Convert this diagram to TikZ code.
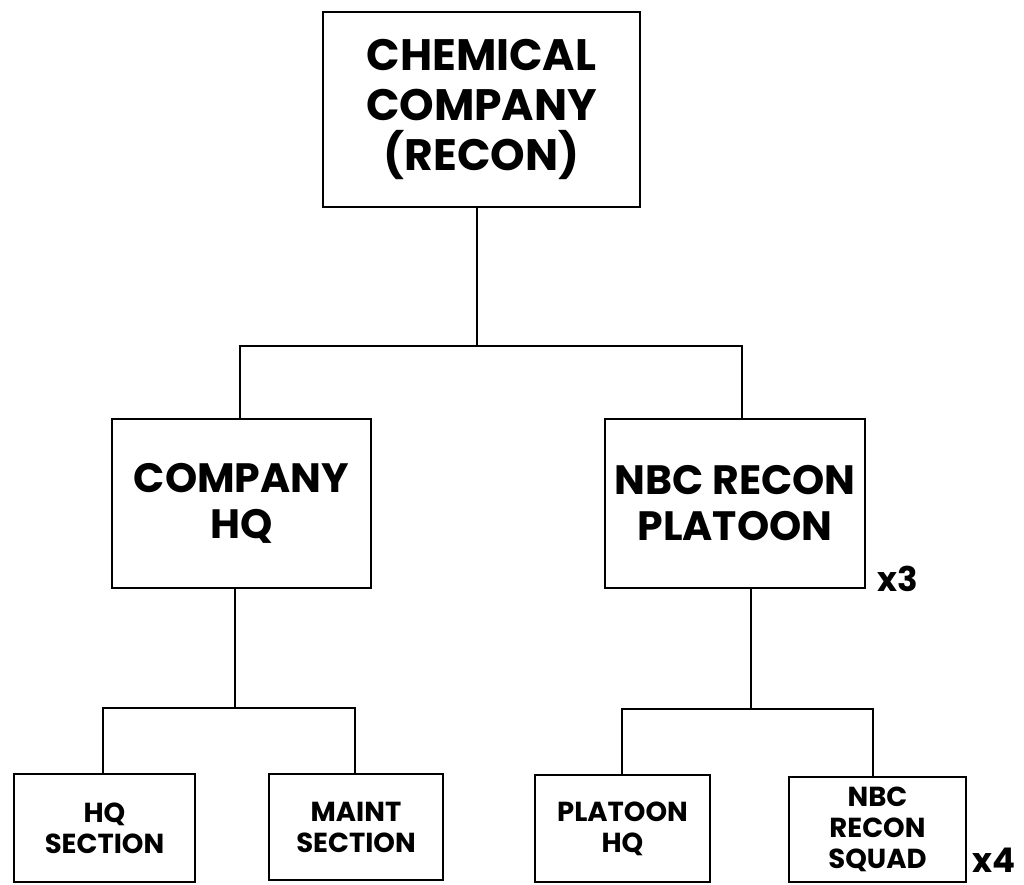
\documentclass[tikz,border=0pt]{standalone}
\usepackage{fontspec}
\setmainfont{Poppins}
\begin{document}
\begin{tikzpicture}[x=1pt,y=-1pt,line width=1.8pt,
  box/.style={draw,rectangle,inner sep=0pt,align=center},
  bigtext/.style={font=\fontsize{44}{50}\selectfont\bfseries},
  midtext/.style={font=\fontsize{41}{46}\selectfont\bfseries},
  smalltext/.style={font=\fontsize{27.5}{31}\selectfont\bfseries},
  mult/.style={font=\fontsize{34}{34}\selectfont\bfseries,inner sep=0pt,anchor=base west}]
\useasboundingbox (0,0) rectangle (1024,884);
\node[box,bigtext,minimum width=317pt,minimum height=195pt] (chem) at (481.5,109.5) {CHEMICAL\\COMPANY\\(RECON)};
\node[box,midtext,minimum width=259pt,minimum height=169pt] (hq) at (241.5,503.5) {COMPANY\\HQ};
\node[box,midtext,minimum width=260pt,minimum height=169pt] (plt) at (735,503.5) {NBC RECON\\PLATOON};
\node[box,smalltext,minimum width=181pt,minimum height=108pt] (hqsec) at (104.5,828) {HQ\\SECTION};
\node[box,smalltext,minimum width=174pt,minimum height=106pt] (maint) at (356,827) {MAINT\\SECTION};
\node[box,smalltext,minimum width=175pt,minimum height=107pt] (plthq) at (622.5,828.5) {PLATOON\\HQ};
\node[box,smalltext,minimum width=177pt,minimum height=105pt] (squad) at (877.5,829.5) {NBC\\RECON\\SQUAD};
\node[mult] (x3) at (877,591) {x3};
\node[mult] (x4) at (972,872) {x4};
\coordinate (j1) at (477,346);
\coordinate (l1) at (240,346);
\coordinate (r1) at (742,346);
\coordinate (j2) at (235,708);
\coordinate (l2) at (103,708);
\coordinate (r2) at (355,708);
\coordinate (j3) at (751,709);
\coordinate (l3) at (622,709);
\coordinate (r3) at (873,709);
\draw (chem.south -| j1) -- (j1);
\draw (hq.north -| l1) |- (r1) -- (plt.north -| r1);
\draw (hq.south -| j2) -- (j2);
\draw (hqsec.north -| l2) |- (r2) -- (maint.north -| r2);
\draw (plt.south -| j3) -- (j3);
\draw (plthq.north -| l3) |- (r3) -- (squad.north -| r3);
\end{tikzpicture}
\end{document}
